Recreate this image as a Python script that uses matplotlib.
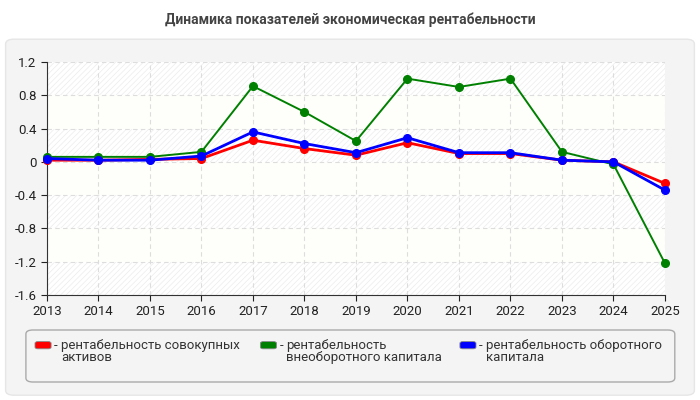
import matplotlib
matplotlib.use("Agg")
import matplotlib.pyplot as plt
from matplotlib.patches import FancyBboxPatch

plt.rcParams['font.family'] = ['Roboto', 'DejaVu Sans']
plt.rcParams['hatch.linewidth'] = 0.5

years = [2013, 2014, 2015, 2016, 2017, 2018, 2019, 2020, 2021, 2022, 2023, 2024, 2025]
total_assets = [0.02, 0.02, 0.03, 0.04, 0.26, 0.16, 0.08, 0.23, 0.10, 0.10, 0.02, 0.00, -0.26]
noncurrent = [0.06, 0.06, 0.06, 0.12, 0.91, 0.60, 0.25, 1.00, 0.90, 1.00, 0.12, -0.03, -1.22]
current = [0.04, 0.02, 0.02, 0.07, 0.36, 0.22, 0.11, 0.29, 0.11, 0.11, 0.02, 0.00, -0.34]

series_names = ['рентабельность совокупных\nактивов',
                'рентабельность\nвнеоборотного капитала',
                'рентабельность оборотного\nкапитала']
colors = ['#ff0000', '#008000', '#0000ff']
widths = [2.0, 1.4, 2.0]
yticks = [1.2, 0.8, 0.4, 0, -0.4, -0.8, -1.2, -1.6]
ytick_labels = ['1.2', '0.8', '0.4', '0', '-0.4', '-0.8', '-1.2', '-1.6']
title = 'Динамика показателей экономическая рентабельности'

fig = plt.figure(figsize=(7, 4), dpi=100)
fig.patch.set_facecolor('white')

# outer panel (behind the axes)
panel = FancyBboxPatch((0.008, 0.012), 0.984, 0.89, boxstyle="round,pad=0,rounding_size=0.012",
                       transform=fig.transFigure, facecolor='#f4f4f4', edgecolor='#e6e6e6', lw=1,
                       zorder=-10)
fig.patches.append(panel)

fig.text(0.5, 0.95, title, ha='center', va='center', fontsize=10, fontweight='bold', color='#444444')

ax = fig.add_axes([0.067, 0.2625, 0.883, 0.5825])
ax.set_facecolor('#fefffa')

# alternating hatched bands
for i in range(len(yticks) - 1):
    if i % 2 == 0:
        ax.axhspan(yticks[i + 1], yticks[i], facecolor='white', edgecolor='#ececec',
                   hatch='//////', lw=0, zorder=0)

ax.set_xlim(years[0], years[-1])
ax.set_ylim(-1.6, 1.2)
ax.set_xticks(years)
ax.set_xticklabels([str(y) for y in years])
ax.set_yticks(yticks)
ax.set_yticklabels(ytick_labels)
ax.tick_params(labelsize=9.5, colors='#222222', length=4, width=0.8)
ax.grid(True, color='#dddddd', linestyle=(0, (4, 3)), lw=0.8, zorder=1)
for s in ['top', 'right']:
    ax.spines[s].set_visible(False)
for s in ['left', 'bottom']:
    ax.spines[s].set_color('#333333')

data = [total_assets, noncurrent, current]
for vals, c, w in zip(data, colors, widths):
    ax.plot(years, vals, color=c, lw=w, marker='o', ms=5.5, zorder=3, clip_on=False)

# legend box
leg = FancyBboxPatch((0.037, 0.045), 0.927, 0.13, boxstyle="round,pad=0,rounding_size=0.01",
                     transform=fig.transFigure, facecolor='#f4f4f4', edgecolor='#aaaaaa', lw=1)
fig.patches.append(leg)
xs = [0.05, 0.372, 0.657]
for x, c, name in zip(xs, colors, series_names):
    fig.patches.append(FancyBboxPatch((x, 0.128), 0.023, 0.018, boxstyle="round,pad=0,rounding_size=0.004",
                                      transform=fig.transFigure, facecolor=c, edgecolor='#888888', lw=0.6))
    fig.text(x + 0.027, 0.137, '-', ha='left', va='center', fontsize=9.5, color='#333333')
    fig.text(x + 0.037, 0.153, name, ha='left', va='top', fontsize=9.5, color='#333333', linespacing=0.95)

fig.savefig('out.png', dpi=100)
